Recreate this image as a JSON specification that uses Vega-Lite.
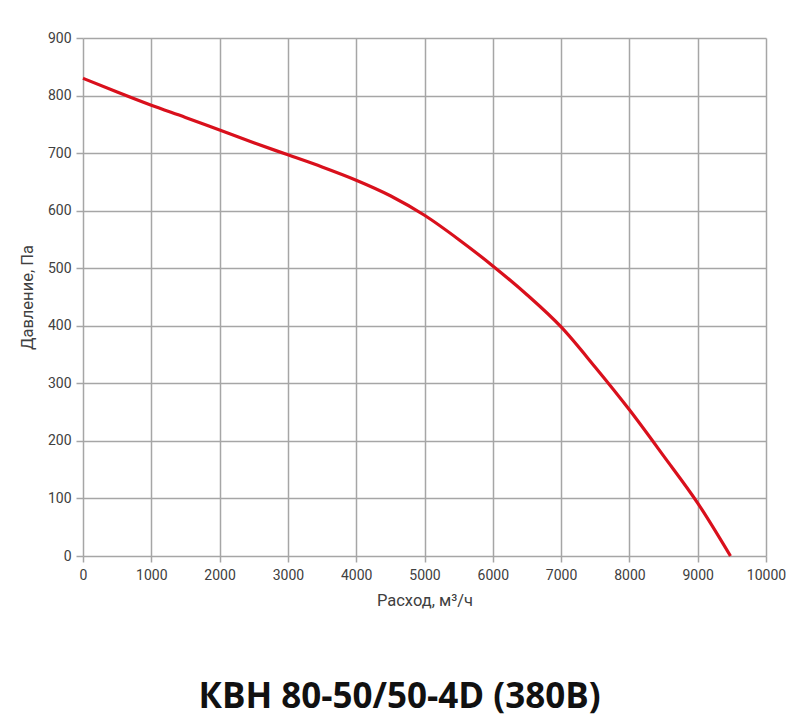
{
  "$schema": "https://vega.github.io/schema/vega-lite/v6.json",
  "autosize": {"type": "none"},
  "padding": {"left": 83, "top": 38, "right": 31, "bottom": 170},
  "width": 683,
  "height": 518,
  "background": "white",
  "title": {
    "text": "КВН 80-50/50-4D (380В)",
    "orient": "bottom",
    "anchor": "middle",
    "offset": 71,
    "dx": -25,
    "font": "Open Sans",
    "fontSize": 35,
    "fontWeight": "bold",
    "color": "#111111"
  },
  "data": {
    "values": [
      {"flow": 0, "pressure": 830},
      {"flow": 500, "pressure": 806},
      {"flow": 1000, "pressure": 783},
      {"flow": 1500, "pressure": 762},
      {"flow": 2000, "pressure": 740},
      {"flow": 2500, "pressure": 718},
      {"flow": 3000, "pressure": 697},
      {"flow": 3500, "pressure": 676},
      {"flow": 4000, "pressure": 653},
      {"flow": 4500, "pressure": 626},
      {"flow": 5000, "pressure": 592},
      {"flow": 5500, "pressure": 550},
      {"flow": 6000, "pressure": 504},
      {"flow": 6500, "pressure": 454},
      {"flow": 7000, "pressure": 398},
      {"flow": 7500, "pressure": 328},
      {"flow": 8000, "pressure": 254},
      {"flow": 8500, "pressure": 174},
      {"flow": 9000, "pressure": 92},
      {"flow": 9480, "pressure": 0}
    ]
  },
  "mark": {"type": "line", "color": "#d9101c", "strokeWidth": 3.2, "interpolate": "monotone"},
  "encoding": {
    "x": {
      "field": "flow",
      "type": "quantitative",
      "scale": {"domain": [0, 10000], "nice": false},
      "axis": {
        "title": "Расход, м³/ч",
        "values": [0, 1000, 2000, 3000, 4000, 5000, 6000, 7000, 8000, 9000, 10000],
        "format": "d",
        "labelFlush": false,
        "labelOverlap": false,
        "domain": false,
        "grid": true,
        "gridColor": "#a6a6a6",
        "gridWidth": 1.5,
        "tickColor": "#a6a6a6",
        "tickWidth": 1.5,
        "tickSize": 6,
        "labelPadding": 6,
        "labelFont": "Roboto",
        "labelFontSize": 14,
        "labelColor": "#404040",
        "titleFont": "Roboto",
        "titleFontSize": 16.5,
        "titleFontWeight": "normal",
        "titleColor": "#404040",
        "titlePadding": 10
      }
    },
    "y": {
      "field": "pressure",
      "type": "quantitative",
      "scale": {"domain": [0, 900], "nice": false},
      "axis": {
        "title": "Давление, Па",
        "values": [0, 100, 200, 300, 400, 500, 600, 700, 800, 900],
        "labelFlush": false,
        "domain": false,
        "grid": true,
        "gridColor": "#a6a6a6",
        "gridWidth": 1.5,
        "tickColor": "#a6a6a6",
        "tickWidth": 1.5,
        "tickSize": 7,
        "labelPadding": 5,
        "labelFont": "Roboto",
        "labelFontSize": 14,
        "labelColor": "#404040",
        "titleFont": "Roboto",
        "titleFontSize": 16.5,
        "titleFontWeight": "normal",
        "titleColor": "#404040",
        "titlePadding": 12
      }
    }
  },
  "config": {"view": {"stroke": null}}
}
